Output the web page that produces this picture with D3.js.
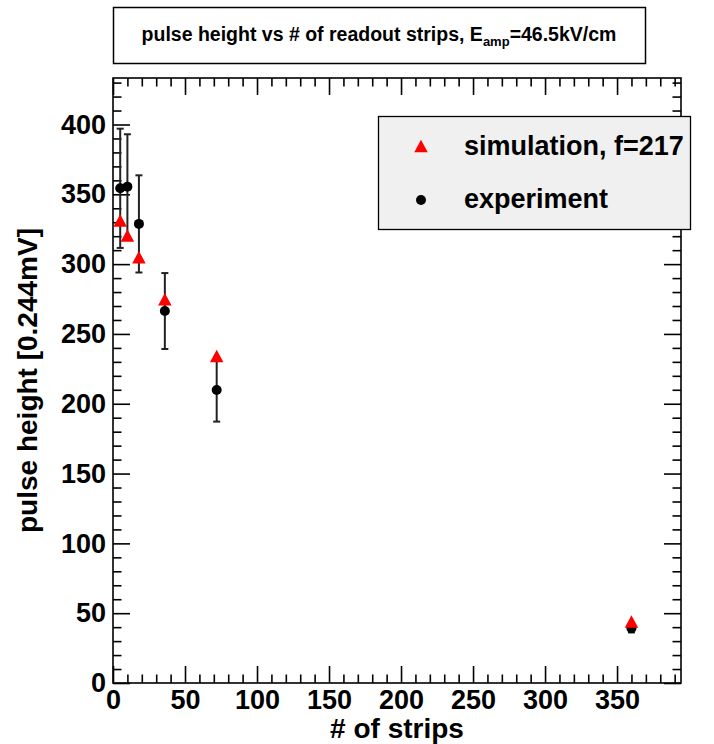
<!DOCTYPE html>
<html>
<head>
<meta charset="utf-8">
<script src="https://cdn.jsdelivr.net/npm/d3@7"></script>
<style>
  html, body { margin: 0; padding: 0; background: #ffffff; }
  svg { display: block; font-family: "Liberation Sans", Arial, Helvetica, sans-serif; }
</style>
</head>
<body>
<svg id="chart" width="714" height="744"></svg>
<script>
// ---- data ----
const strips      = [5, 10, 18, 36, 72, 360];
const simulation  = [331.3, 320.5, 305.0, 274.8, 234.2, 44.0];
const experiment  = [354.3, 355.5, 328.8, 266.4, 209.9, 39.2];
const expError    = [42.7, 37.5, 34.8, 27.2, 22.7, 3.0];
const xMajorTicks = [0, 50, 100, 150, 200, 250, 300, 350];
const yMajorTicks = [0, 50, 100, 150, 200, 250, 300, 350, 400];
const xDomain = [0, 394.4];
const yDomain = [0, 433.3];
const titleMain = "pulse height vs # of readout strips, E";
const titleSub = "amp";
const titleTail = "=46.5kV/cm";
const xTitle = "# of strips";
const yTitle = "pulse height [0.244mV]";
const legendLabels = ["simulation, f=217", "experiment"];

// ---- layout ----
const svg = d3.select("#chart");
const L = 113, R = 681, T = 78, B = 683;
const x = d3.scaleLinear().domain(xDomain).range([L, R]);
const y = d3.scaleLinear().domain(yDomain).range([B, T]);

const xMinor = d3.range(0, xDomain[1], 10).filter(v => v % 50 !== 0);
const yMinor = d3.range(0, yDomain[1], 10).filter(v => v % 50 !== 0);
const MAJ = 17, MIN = 8.5;

// title box
svg.append("rect").attr("x", 113.5).attr("y", 7.5).attr("width", 532).attr("height", 56)
  .attr("fill", "#fff").attr("stroke", "#000").attr("stroke-width", 1.5);
const tt = svg.append("text").attr("x", 379).attr("y", 41).attr("text-anchor", "middle")
  .attr("font-weight", "bold").attr("font-size", 19.5).attr("fill", "#000");
tt.append("tspan").text(titleMain);
tt.append("tspan").attr("font-size", 13).attr("dy", 5).text(titleSub);
tt.append("tspan").attr("dy", -5).text(titleTail);

function styleAxis(g) {
  g.select(".domain").remove();
  g.selectAll(".tick line").attr("stroke", "#000").attr("stroke-width", 1.6);
}

// bottom major (with labels) + minor
svg.append("g").attr("transform", `translate(0,${B})`)
  .call(d3.axisBottom(x).tickValues(xMajorTicks).tickSize(-MAJ).tickPadding(7).tickFormat(d3.format("d")))
  .call(styleAxis)
  .call(g => g.selectAll("text").attr("font-size", 27).attr("font-weight", "bold").attr("fill", "#000"));
svg.append("g").attr("transform", `translate(0,${B})`)
  .call(d3.axisBottom(x).tickValues(xMinor).tickSize(-MIN).tickFormat(""))
  .call(styleAxis);
// top mirror
svg.append("g").attr("transform", `translate(0,${T})`)
  .call(d3.axisTop(x).tickValues(xMajorTicks).tickSize(-MAJ).tickFormat(""))
  .call(styleAxis);
svg.append("g").attr("transform", `translate(0,${T})`)
  .call(d3.axisTop(x).tickValues(xMinor).tickSize(-MIN).tickFormat(""))
  .call(styleAxis);

// left major (with labels) + minor
svg.append("g").attr("transform", `translate(${L},0)`)
  .call(d3.axisLeft(y).tickValues(yMajorTicks).tickSize(-MAJ).tickPadding(7).tickFormat(d3.format("d")))
  .call(styleAxis)
  .call(g => g.selectAll("text").attr("font-size", 27).attr("font-weight", "bold").attr("fill", "#000"));
svg.append("g").attr("transform", `translate(${L},0)`)
  .call(d3.axisLeft(y).tickValues(yMinor).tickSize(-MIN).tickFormat(""))
  .call(styleAxis);
// right mirror
svg.append("g").attr("transform", `translate(${R},0)`)
  .call(d3.axisRight(y).tickValues(yMajorTicks).tickSize(-MAJ).tickFormat(""))
  .call(styleAxis);
svg.append("g").attr("transform", `translate(${R},0)`)
  .call(d3.axisRight(y).tickValues(yMinor).tickSize(-MIN).tickFormat(""))
  .call(styleAxis);

// frame
svg.append("rect").attr("x", L).attr("y", T).attr("width", R - L).attr("height", B - T)
  .attr("fill", "none").attr("stroke", "#000").attr("stroke-width", 1.6);

// axis titles
svg.append("text").attr("x", (L + R) / 2).attr("y", 738).attr("text-anchor", "middle")
  .attr("font-size", 28).attr("font-weight", "bold").attr("fill", "#000").text(xTitle);
svg.append("text").attr("transform", `translate(37,${(T + B) / 2}) rotate(-90)`).attr("text-anchor", "middle")
  .attr("font-size", 28).attr("font-weight", "bold").attr("fill", "#000").text(yTitle);

function tri(cx, cy, w, h) {
  return `M${cx - w / 2},${cy + h / 2}L${cx + w / 2},${cy + h / 2}L${cx},${cy - h / 2}Z`;
}

// experiment error bars + points
const eg = svg.append("g");
strips.forEach((s, i) => {
  const cx = x(s);
  const y1 = y(experiment[i] + expError[i]);
  const y2 = y(experiment[i] - expError[i]);
  eg.append("line").attr("x1", cx).attr("x2", cx).attr("y1", y1).attr("y2", y2)
    .attr("stroke", "#222").attr("stroke-width", 2);
  [y1, y2].forEach(yy => eg.append("line").attr("x1", cx - 3.5).attr("x2", cx + 3.5)
    .attr("y1", yy).attr("y2", yy).attr("stroke", "#222").attr("stroke-width", 2));
});
eg.selectAll("circle").data(strips).join("circle")
  .attr("cx", d => x(d)).attr("cy", (d, i) => y(experiment[i])).attr("r", 5).attr("fill", "#000");

// simulation triangles
svg.append("g").selectAll("path").data(strips).join("path")
  .attr("d", (d, i) => tri(x(d), y(simulation[i]), 13.5, 12.5)).attr("fill", "#ff0000");

// legend
svg.append("rect").attr("x", 378.5).attr("y", 116.5).attr("width", 312).attr("height", 113)
  .attr("fill", "#f0f0f0").attr("stroke", "#000").attr("stroke-width", 1.3);
svg.append("path").attr("d", tri(421, 146, 13.5, 12.5)).attr("fill", "#ff0000");
svg.append("circle").attr("cx", 421).attr("cy", 200).attr("r", 5).attr("fill", "#000");
svg.append("text").attr("x", 464).attr("y", 155).attr("font-size", 27).attr("font-weight", "bold")
  .attr("fill", "#000").text(legendLabels[0]);
svg.append("text").attr("x", 464).attr("y", 208).attr("font-size", 27).attr("font-weight", "bold")
  .attr("fill", "#000").text(legendLabels[1]);
</script>
</body>
</html>
